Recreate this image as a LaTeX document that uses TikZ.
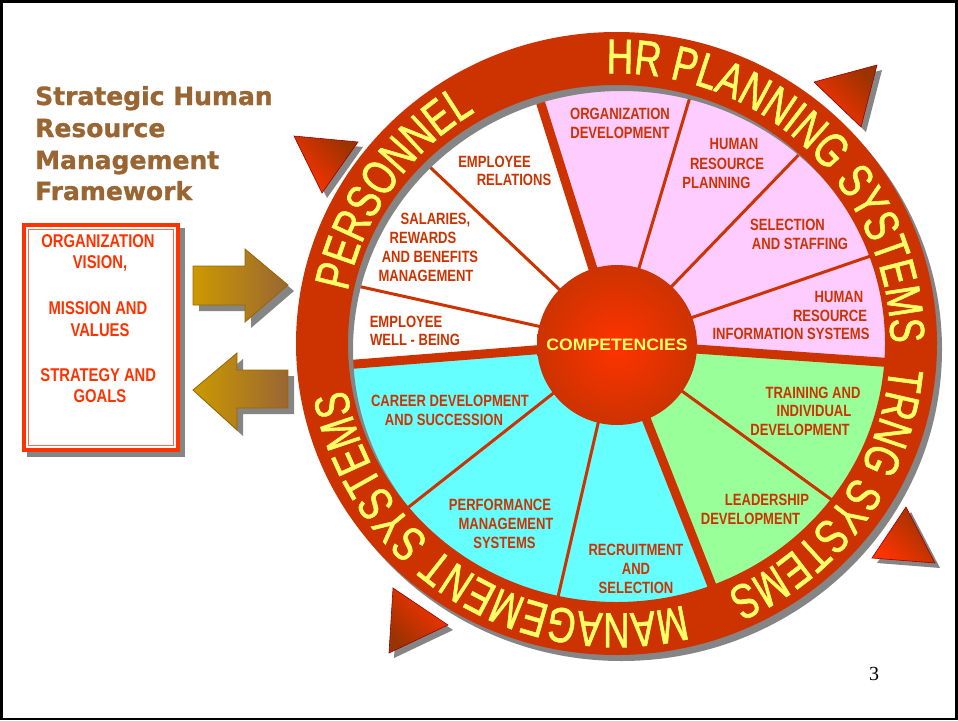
\documentclass[tikz,border=0pt]{standalone}
\usepackage{fontspec}
\setmainfont{Liberation Sans}
\newfontfamily\narrowbold{Liberation Sans}[FakeStretch=0.8]
\newfontfamily\ringfam{Liberation Sans}[FakeStretch=0.75,FakeBold=1.2]
\newfontfamily\compfam{Liberation Sans}[FakeStretch=1.07]
\newfontfamily\titlefam{DejaVu Sans}[FakeBold=1.2]
\newfontfamily\pagefam{Liberation Serif}
\usetikzlibrary{decorations.text,calc}
\definecolor{ringred}{HTML}{CC3300}
\definecolor{ringtext}{HTML}{FFFF66}
\definecolor{pinkc}{HTML}{FFCCFF}
\definecolor{cyanc}{HTML}{66FFFF}
\definecolor{greenc}{HTML}{99FF99}
\definecolor{labred}{HTML}{CC3300}
\definecolor{boxred}{HTML}{FF3300}
\definecolor{boxthin}{HTML}{FF6644}
\definecolor{titlebrown}{HTML}{996633}
\definecolor{shadowgray}{HTML}{858585}
\definecolor{trib}{HTML}{FF3300}
\definecolor{trid}{HTML}{993300}
\definecolor{triline}{HTML}{990000}
\definecolor{goldc}{HTML}{CC9900}
\definecolor{arrbrown}{HTML}{996633}
\definecolor{arrline}{HTML}{996600}
\definecolor{compin}{HTML}{FF3300}
\definecolor{compout}{HTML}{CC3300}
\begin{document}
\begin{tikzpicture}[x=1pt,y=1pt,
  lab/.style={font=\narrowbold\bfseries\fontsize{16.3}{19}\selectfont, text=labred, anchor=base, inner sep=0pt},
  boxlab/.style={font=\narrowbold\bfseries\fontsize{18.5}{22}\selectfont, text=boxred, anchor=base, inner sep=0pt},
  titlelab/.style={font=\titlefam\bfseries\fontsize{25}{30}\selectfont, text=titlebrown, anchor=base west, inner sep=0pt},
  ringdeco/.style={decorate, decoration={text along path, text align=center,
     text={|\ringfam\fontsize{49}{50}\selectfont\color{ringtext}|#1}}},
  thinline/.style={draw=ringred, line width=3pt},
  thickline/.style={draw=ringred, line width=9pt},
  trishade/.style={top color=trib, bottom color=trid, draw=triline, line width=0.6pt},
  arrshade/.style={left color=goldc, right color=arrbrown, draw=arrline, line width=0.8pt}
]
\useasboundingbox (0,0) rectangle (958,-720);
\fill[white] (0,0) rectangle (958,-720);
\draw[black, line width=2.5pt] (1.25,-1.25) rectangle (956.5,-718.75);

\coordinate (C) at (616.5,-343.5);

% pie sectors
\begin{scope}
  \clip (C) ellipse [x radius=290, y radius=282];
  \fill[white] (C) ellipse [x radius=290, y radius=282];
  \fill[pinkc] (C) -- ++(-4:420) arc[start angle=-4, end angle=107.5, radius=420] -- cycle;
  \fill[cyanc] (C) -- ++(184.5:420) arc[start angle=184.5, end angle=291.5, radius=420] -- cycle;
  \fill[greenc] (C) -- ++(-68.5:420) arc[start angle=-68.5, end angle=-4, radius=420] -- cycle;
  \foreach \a in {136.6,167.5,73.4,46,19,-36,-103,-141.8}
    \draw[thinline] (C) -- ++(\a:420);
  \foreach \a in {107.5,-4,-68.5,184.5}
    \draw[thickline] (C) -- ++(\a:420);
\end{scope}

% ring with shadow
\fill[shadowgray, even odd rule] ($(C)+(5,-6)$) ellipse [x radius=320.5, y radius=311.5]
   ($(C)+(5,-6)$) ellipse [x radius=268.5, y radius=258.5];
\fill[ringred, even odd rule] (C) ellipse [x radius=320.5, y radius=311.5]
   (C) ellipse [x radius=268.5, y radius=258.5];

% ring texts
\path[ringdeco={PERSONNEL}] (C) ++(178:274 and 270) arc[start angle=178, end angle=112, x radius=274, y radius=270];
\path[ringdeco={HR PLANNING SYSTEMS}] (C) ++(101:274 and 270) arc[start angle=101, end angle=-9, x radius=274, y radius=270];
\path[ringdeco={TRNG SYSTEMS}] (C) ++(4.4:274 and 270) arc[start angle=4.4, end angle=-75.6, x radius=274, y radius=270];
\path[ringdeco={MANAGEMENT SYSTEMS}] (C) ++(-68:274 and 270) arc[start angle=-68, end angle=-178, x radius=274, y radius=270];

% competencies
\node[circle, minimum size=160pt, inner sep=0pt, inner color=compin, outer color=compout,
      font=\compfam\bfseries\fontsize{16.5}{19}\selectfont, text=ringtext] (comp) at (617,-345) {COMPETENCIES};

% sector labels
\node[lab] (er1) at (494.5,-167) {EMPLOYEE};
\node[lab] (er2) at (514,-185) {RELATIONS};
\node[lab] (sr1) at (435.5,-224) {SALARIES,};
\node[lab] (sr2) at (423,-243) {REWARDS};
\node[lab] (sr3) at (430,-262) {AND BENEFITS};
\node[lab] (sr4) at (426,-281) {MANAGEMENT};
\node[lab] (wb1) at (406,-327) {EMPLOYEE};
\node[lab] (wb2) at (415,-345) {WELL - BEING};
\node[lab] (od1) at (620,-119) {ORGANIZATION};
\node[lab] (od2) at (620,-138) {DEVELOPMENT};
\node[lab] (hp1) at (734,-149) {HUMAN};
\node[lab] (hp2) at (727,-169) {RESOURCE};
\node[lab] (hp3) at (716.5,-188) {PLANNING};
\node[lab] (ss1) at (787.5,-230) {SELECTION};
\node[lab] (ss2) at (800,-249) {AND STAFFING};
\node[lab] (hi1) at (839,-302) {HUMAN};
\node[lab] (hi2) at (830,-321) {RESOURCE};
\node[lab] (hi3) at (791,-339) {INFORMATION SYSTEMS};
\node[lab] (td1) at (813,-398) {TRAINING AND};
\node[lab] (td2) at (814,-416) {INDIVIDUAL};
\node[lab] (td3) at (800,-435) {DEVELOPMENT};
\node[lab] (ld1) at (767,-505) {LEADERSHIP};
\node[lab] (ld2) at (750.5,-524) {DEVELOPMENT};
\node[lab] (cd1) at (450,-406) {CAREER DEVELOPMENT};
\node[lab] (cd2) at (444,-425) {AND SUCCESSION};
\node[lab] (pm1) at (500,-510) {PERFORMANCE};
\node[lab] (pm2) at (506,-529) {MANAGEMENT};
\node[lab] (pm3) at (504.5,-548) {SYSTEMS};
\node[lab] (rs1) at (636,-555) {RECRUITMENT};
\node[lab] (rs2) at (636,-574) {AND};
\node[lab] (rs3) at (636,-593) {SELECTION};

% triangles
\fill[shadowgray] (299,-141) -- (363,-147) -- (327,-198) -- cycle;
\shadedraw[trishade, shading angle=135] (294,-136) -- (358,-142) -- (322,-193) -- cycle;
\fill[shadowgray] (819,-87) -- (882,-70) -- (866,-132) -- cycle;
\shadedraw[trishade, shading angle=135] (814,-82) -- (877,-65) -- (861,-127) -- cycle;
\fill[shadowgray] (911,-512) -- (940,-568) -- (877,-563) -- cycle;
\shadedraw[trishade, shading angle=135] (906,-507) -- (935,-563) -- (872,-558) -- cycle;
\fill[shadowgray] (398,-593) -- (453,-630) -- (394,-658) -- cycle;
\shadedraw[trishade, shading angle=-45] (393,-588) -- (448,-625) -- (389,-653) -- cycle;

% title
\node[titlelab] (t1) at (35,-105) {Strategic Human};
\node[titlelab] (t2) at (35,-137) {Resource};
\node[titlelab] (t3) at (35,-169) {Management};
\node[titlelab] (t4) at (35,-200) {Framework};

% box
\fill[shadowgray] (27,-228) rectangle (185,-457);
\fill[white] (22,-223) rectangle (180,-452);
\draw[boxred, line width=4pt] (24,-225) rectangle (178,-450);
\draw[boxthin, line width=1pt] (28.5,-229.5) rectangle (173.5,-445.5);
\node[boxlab] (bx1) at (98,-247.5) {ORGANIZATION};
\node[boxlab] (bx2) at (100,-268.5) {VISION,};
\node[boxlab] (bx3) at (98,-314.5) {MISSION AND};
\node[boxlab] (bx4) at (100,-336.5) {VALUES};
\node[boxlab] (bx5) at (98.3,-381.5) {STRATEGY AND};
\node[boxlab] (bx6) at (100,-402.5) {GOALS};

% arrows
\fill[shadowgray] (199,-272) -- (251,-272) -- (251,-255) -- (294,-291) -- (251,-328) -- (251,-311) -- (199,-311) -- cycle;
\shadedraw[arrshade] (193,-266) -- (245,-266) -- (245,-249) -- (288,-285) -- (245,-322) -- (245,-305) -- (193,-305) -- cycle;
\fill[shadowgray] (199,-396) -- (243,-359) -- (243,-376) -- (294,-376) -- (294,-414) -- (243,-414) -- (243,-436) -- cycle;
\shadedraw[arrshade] (193,-390) -- (237,-353) -- (237,-370) -- (288,-370) -- (288,-408) -- (237,-408) -- (237,-430) -- cycle;

% page number
\node[font=\pagefam\fontsize{20}{24}\selectfont, inner sep=0pt] (pagenum) at (874,-674) {3};
\end{tikzpicture}
\end{document}
